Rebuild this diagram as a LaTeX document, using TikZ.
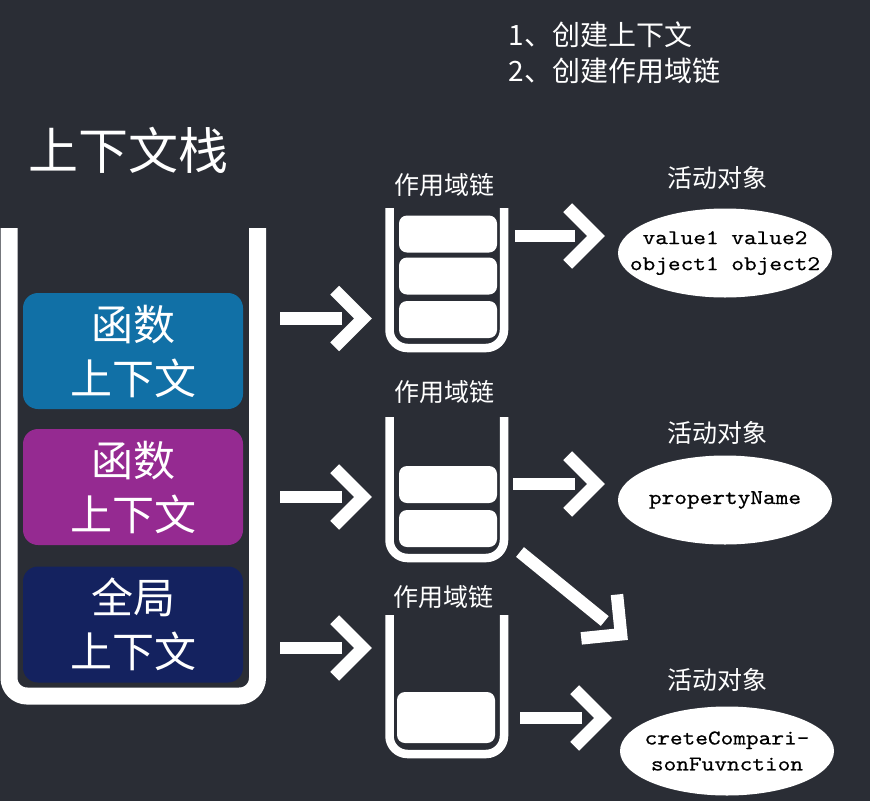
\documentclass[tikz,border=0pt]{standalone}
\usepackage{fontspec}
\setmainfont{Noto Sans CJK SC}
\newfontfamily\aofont{lmmono10-regular.otf}[FakeStretch=1.15,FakeBold=0.5]
\usetikzlibrary{shapes.geometric,calc}
\definecolor{bgdark}{HTML}{2A2D35}
\definecolor{fnblue}{HTML}{1170A6}
\definecolor{fnpurple}{HTML}{952A91}
\definecolor{glnavy}{HTML}{14225F}
\tikzset{
	ctxbox/.style={rounded corners=15pt, minimum width=220pt, minimum height=116pt, inner sep=0pt,
		text=white, align=center, font=\fontsize{42}{54}\selectfont},
	scopebox/.style={fill=white, rounded corners=8pt, minimum width=98pt, minimum height=37pt, inner sep=0pt},
	cup/.style={draw=white, rounded corners=18pt},
	shaft/.style={draw=white, line width=12.5pt},
	chevron/.style={draw=white, line width=12.5pt, line join=miter},
	aobj/.style={ellipse, fill=white, minimum width=214pt, minimum height=89pt, inner sep=0pt},
	aotext/.style={text=black, align=center, inner sep=0pt, font=\aofont\fontsize{21}{26}\selectfont},
	lbl/.style={text=white, font=\fontsize{25}{30}\selectfont}
}
\begin{document}
\begin{tikzpicture}[x=1pt,y=-1pt]
	\fill[bgdark] (0,0) rectangle (870,801);
	\useasboundingbox (0,0) rectangle (870,801);
	
	% steps
	\node[lbl, anchor=west, align=left, font=\fontsize{28}{36}\selectfont] (steps) at (505,53)
		{1、创建上下文\\2、创建作用域链};
	
	% context stack
	\node[text=white, font=\fontsize{50}{60}\selectfont] (stacktitle) at (128,150) {上下文栈};
	\draw[cup, line width=17pt] (9,228) |- (133,696) -| (257.5,228);
	\node[ctxbox, fill=fnblue]   (fnctx1) at (133,351)   {函数\\上下文};
	\node[ctxbox, fill=fnpurple] (fnctx2) at (133,487)   {函数\\上下文};
	\node[ctxbox, fill=glnavy]   (glctx)  at (133,624.5) {全局\\上下文};
	
	% scope chains
	\node[lbl] (chain1) at (444,185) {作用域链};
	\draw[cup, line width=8.5pt] (389.5,208) |- (447,348) -| (504,208);
	\node[scopebox] (s11) at (448,234) {};
	\node[scopebox] (s12) at (448,276) {};
	\node[scopebox] (s13) at (448,319.5) {};
	
	\node[lbl] (chain2) at (444,392) {作用域链};
	\draw[cup, line width=8.5pt] (389.5,417) |- (447,558) -| (504,417);
	\node[scopebox] (s21) at (448,484.5) {};
	\node[scopebox] (s22) at (448,528.5) {};
	
	\node[lbl] (chain3) at (443,597) {作用域链};
	\draw[cup, line width=8.5pt] (389.5,615) |- (447,754) -| (504,615);
	\node[scopebox, minimum height=51pt] (s31) at (446,717.5) {};
	
	% activation objects
	\node[lbl] (aolbl1) at (717,178) {活动对象};
	\node[aobj, label={[aotext]center:value1 value2\\object1 object2}] (ao1) at (725,253) {};
	\node[lbl] (aolbl2) at (717,433) {活动对象};
	\node[aobj, label={[aotext]center:propertyName}] (ao2) at (725,500) {};
	\node[lbl] (aolbl3) at (717,680) {活动对象};
	\node[aobj, label={[aotext]center:creteCompari-\\sonFuvnction}] (ao3) at (727,751) {};
	
	% arrows
	\coordinate (a1) at (280,318.5);  \coordinate (b1) at (372,318.5);
	\coordinate (a2) at (280,497);    \coordinate (b2) at (372,497);
	\coordinate (a3) at (280,648);    \coordinate (b3) at (372,648);
	\coordinate (c1) at (515,236);    \coordinate (d1) at (605,236);
	\coordinate (c2) at (513,484);    \coordinate (d2) at (605,484);
	\coordinate (c3) at (520,552);    \coordinate (d3) at (628,640);
	\coordinate (c4) at (520,718);    \coordinate (d4) at (612,718);
	\foreach \s/\t in {a1/b1, a2/b2, a3/b3, c1/d1, c2/d2, c3/d3, c4/d4}{
		\draw[shaft] (\s) -- ($(\t)!30pt!(\s)$);
		\coordinate (v) at ($(\t)!9pt!(\s)$);
		\draw[chevron] ($(v)!40pt!45:(\s)$) -- (v) -- ($(v)!40pt!-45:(\s)$);
	}
\end{tikzpicture}
\end{document}
